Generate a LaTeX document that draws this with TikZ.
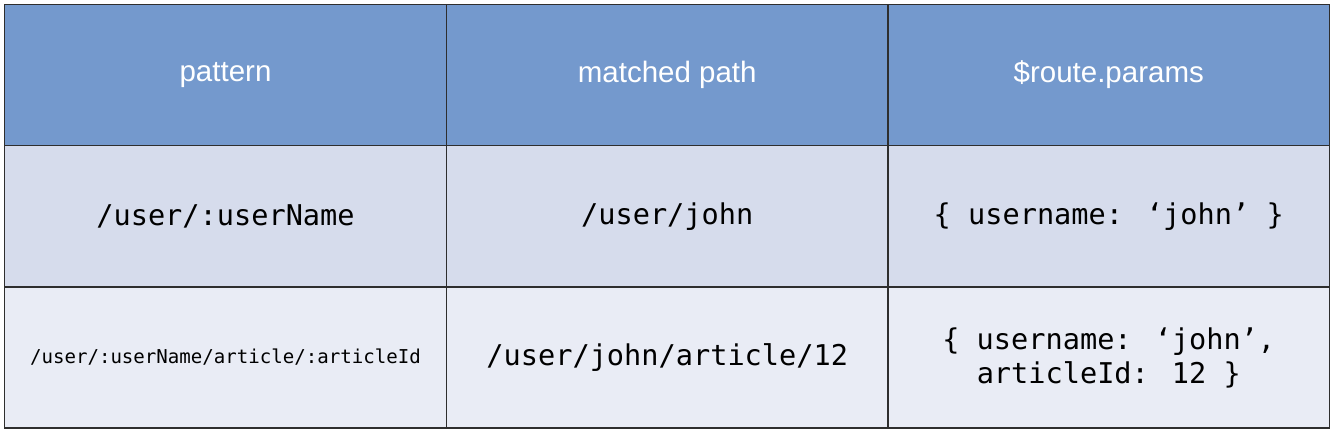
\documentclass[tikz,border=0pt]{standalone}
\usepackage{fontspec}
\newfontfamily\hdrfont{Liberation Sans}
\newfontfamily\codefont{DejaVu Sans Mono}
\definecolor{hdr}{HTML}{7499CD}
\definecolor{rowa}{HTML}{D6DCEC}
\definecolor{rowb}{HTML}{E9ECF5}
\definecolor{grid}{HTML}{2E2E2E}
\tikzset{
  cell/.style={draw=grid, line width=1.8pt, rectangle, inner sep=0pt, outer sep=0pt, anchor=north west, align=center},
  hcell/.style={cell, fill=hdr, text=white, font=\hdrfont\fontsize{29.5}{34}\selectfont},
  acell/.style={cell, fill=rowa, text=black, font=\codefont\fontsize{28.6}{34}\selectfont},
  bcell/.style={cell, fill=rowb, text=black, font=\codefont\fontsize{28.6}{34}\selectfont},
  smallcode/.style={font=\codefont\fontsize{19.1}{23}\selectfont}
}
\begin{document}
\begin{tikzpicture}[x=1pt,y=-1pt]
\useasboundingbox[fill=white] (0,0) rectangle (1336,433);
% header row
\node[hcell, minimum width=442pt, minimum height=141pt] (h1) at (4.5,4.5) {pattern};
\node[hcell, minimum width=441.5pt, minimum height=141pt] (h2) at (446.5,4.5) {matched path};
\node[hcell, minimum width=441.5pt, minimum height=141pt] (h3) at (888,4.5) {\$route.params};
% row 1
\node[acell, minimum width=442pt, minimum height=141.5pt] (a1) at (4.5,145.5) {/user/:userName};
\node[acell, minimum width=441.5pt, minimum height=141.5pt] (a2) at (446.5,145.5) {/user/john};
\node[acell, minimum width=441.5pt, minimum height=141.5pt] (a3) at (888,145.5) {\{ username: ‘john’ \}};
% row 2
\node[bcell, smallcode, minimum width=442pt, minimum height=141pt] (b1) at (4.5,287) {/user/:userName/article/:articleId};
\node[bcell, minimum width=441.5pt, minimum height=141pt] (b2) at (446.5,287) {/user/john/article/12};
\node[bcell, minimum width=441.5pt, minimum height=141pt] (b3) at (888,287) {\{ username: ‘john’,\\articleId: 12 \}};
\end{tikzpicture}
\end{document}
